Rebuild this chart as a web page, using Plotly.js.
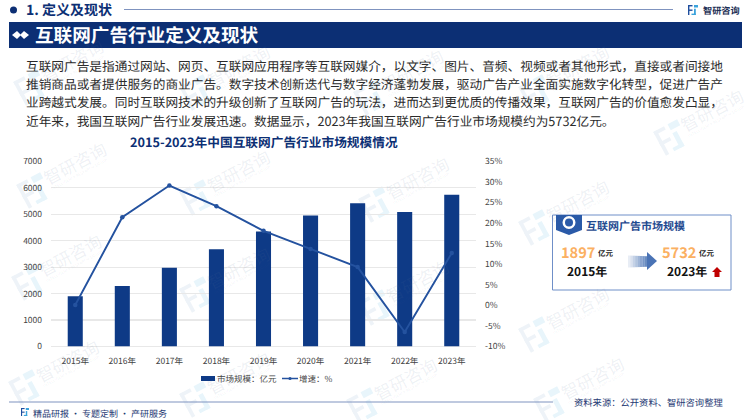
<!DOCTYPE html>
<html><head><meta charset="utf-8">
<script src="https://cdn.plot.ly/plotly-3.0.1.min.js"></script>
<style>html,body{margin:0;padding:0;background:#fff}#c{width:750px;height:420px}svg text{text-rendering:geometricPrecision}</style></head>
<body><div id="c"></div>
<script>
const years=['2015年','2016年','2017年','2018年','2019年','2020年','2021年','2022年','2023年'];
const marketSize=[1897,2290,2980,3680,4350,4950,5410,5083,5732];
const growth=[0.1,21.4,29.1,24.1,18.1,13.7,9.3,-6.5,12.7];
const bodyLines=[
'互联网广告是指通过网站、网页、互联网应用程序等互联网媒介，以文字、图片、音频、视频或者其他形式，直接或者间接地',
'推销商品或者提供服务的商业广告。数字技术创新迭代与数字经济蓬勃发展，驱动广告产业全面实施数字化转型，促进广告产',
'业跨越式发展。同时互联网技术的升级创新了互联网广告的玩法，进而达到更优质的传播效果，互联网广告的价值愈发凸显，',
'近年来，我国互联网广告行业发展迅速。数据显示，2023年我国互联网广告行业市场规模约为5732亿元。'];
const wmSpots=[[72,60],[238,65],[412,70],[577,65],[712,110],[75,163],[238,170],[417,177],[577,200],[70,255],[238,267],[417,280],[577,307],[67,360],[238,372],[405,378],[592,377]];

const F='"Noto Sans CJK SC","Noto Sans",sans-serif';
const NAVY='#0c2f74', BLUE='#0e3a86', LINE='#24529f';
const px=x=>x/750, py=y=>1-y/420;
const ann=[], shp=[];
function T(x,y,text,size,color,o={}){ann.push(Object.assign({xref:'paper',yref:'paper',x:px(x-2),y:py(y),text,showarrow:false,
 xanchor:'left',yanchor:'middle',font:{family:F,size,color}},o));}
function TB(x,y,text,size,color,o={}){T(x,y,text,size,color,Object.assign({font:{family:F,size,color,weight:700}},o));}
function R(x0,y0,x1,y1,fill,line,lw,o={}){shp.push(Object.assign({type:'rect',xref:'paper',yref:'paper',x0:px(x0),x1:px(x1),y0:py(y0),y1:py(y1),
 fillcolor:fill,line:{color:line||fill,width:lw||0}},o));}
function P(pts,fill,o={}){const d='M'+pts.map(p=>px(p[0])+','+py(p[1])).join('L')+'Z';
 shp.push(Object.assign({type:'path',xref:'paper',yref:'paper',path:d,fillcolor:fill,line:{width:0}},o));}
function L(x0,y0,x1,y1,c,w,o={}){shp.push(Object.assign({type:'line',xref:'paper',yref:'paper',x0:px(x0),x1:px(x1),y0:py(y0),y1:py(y1),line:{color:c,width:w}},o));}
function C(cx,cy,r,fill,o={}){shp.push(Object.assign({type:'circle',xref:'paper',yref:'paper',x0:px(cx-r),x1:px(cx+r),y0:py(cy+r),y1:py(cy-r),fillcolor:fill,line:{width:0}},o));}
const LOGO=[[0,0,.45,.14,0],[0,0,.14,1,0],[0,.45,.45,.59,0],[.6,0,1,.25,1],[.6,.38,.78,1,1],[.35,.86,.78,1,1]];
function logo(x,y,s,c1,c2,ang,o){
 const a=(ang||0)*Math.PI/180,ca=Math.cos(a),sa=Math.sin(a),cx=x+s/2,cy=y+s/2;
 const rot=(u,v)=>{const dx=x+u*s-cx,dy=y+v*s-cy;return [cx+dx*ca-dy*sa,cy+dx*sa+dy*ca];};
 LOGO.forEach(b=>P([rot(b[0],b[1]),rot(b[2],b[1]),rot(b[2],b[3]),rot(b[0],b[3])],b[4]?c2:c1,o||{}));
}
// watermarks
wmSpots.forEach(([x,y])=>{
 ann.push({xref:'paper',yref:'paper',x:px(x),y:py(y),text:'智研咨询',showarrow:false,xanchor:'center',yanchor:'middle',textangle:-28,font:{family:F,size:17,color:'rgba(90,115,150,0.10)'}});
 ann.push({xref:'paper',yref:'paper',x:px(x+4),y:py(y+12),text:'INTELLIGENCE RESEARCH GROUP',showarrow:false,xanchor:'center',yanchor:'middle',textangle:-28,font:{family:F,size:4,color:'rgba(90,115,150,0.10)'}});
 logo(x-54,y+14,27,'#eef3f8','#e8f5fb',-28,{layer:'below'});
});
// header
C(13.5,10,3.5,NAVY);
TB(26,10,'1. 定义及现状',14,NAVY);
L(124,9.5,673,9.5,'#7f93bf',1);
logo(688,5,10,'#1f4e9e','#3aa3dc');
TB(703,9.5,'智研咨询',9.2,'#1c2f55');
R(9,22,742,48,NAVY);
P([[12,35],[17,31],[21,35],[17,39]],'#ffffff');P([[20,35],[24,31],[29,35],[24,39]],'#ffffff');
TB(35,34.5,'互联网广告行业定义及现状',18.6,'#ffffff');
bodyLines.forEach((t,i)=>T(25.5,65+i*18.35,t,12.68,'#2b2b2b'));
// chart title
ann.push({xref:'paper',yref:'paper',x:px(264),y:py(141.5),text:'2015-2023年中国互联网广告行业市场规模情况',showarrow:false,xanchor:'center',yanchor:'middle',font:{family:F,size:12.7,color:NAVY,weight:700}});
// legend
R(201,376,215,381,BLUE);
T(217,378.5,'市场规模：亿元',8.5,'#444');
L(282,378.5,298,378.5,LINE,1.5);
C(290,378.5,1.6,LINE);
T(299,378.5,'增速：%',8.5,'#444');
// right card
R(552.5,215,731,290,'rgba(255,255,255,0)','#6f8fc8',1);
P([[556,215],[582,215],[582,230],[569,235],[556,230]],'#2a5aa8');
C(569,222.5,6.5,'#ffffff');C(569,222.5,4,'#2a5aa8');
TB(586,225.5,'互联网广告市场规模',11,'#1f4a90');
TB(561,252.5,'1897',14.6,'#fbb062');
TB(598,254,'亿元',7.5,'#222');
TB(567,271,'2015年',12,'#111');
[0.12,0.2,0.3,0.4,0.5,0.6,0.7,0.78].forEach((op,i)=>R(628+i*2.4,255.5+i*.1,630.4+i*2.4,267.5-i*.1,'#3f6bb0',null,0,{opacity:op}));
P([[647,252],[657,261],[647,270]],'#4a73b5');
TB(662,252.5,'5732',14.6,'#fbb062');
TB(699,254,'亿元',7.5,'#222');
TB(667,271,'2023年',12,'#111');
P([[712,272],[717,267],[722,272],[719.5,272],[719.5,277],[714.5,277],[714.5,272]],'#c00000');
// footer
L(9,402,553,402,'#7f93bf',1);
logo(21,408,8,'#1f4e9e','#3aa3dc');
T(33,413,'精品研报 · 专题定制 · 产研服务',9,'#1f3a74');
T(574,402,'资料来源：公开资料、智研咨询整理',9.3,'#1f3a74');

const tf={family:F,size:8.5,color:'#444'};
const data=[
 {type:'bar',x:years,y:marketSize,name:'市场规模：亿元',marker:{color:BLUE},width:0.32,yaxis:'y'},
 {type:'scatter',mode:'lines+markers',x:years,y:growth,name:'增速：%',yaxis:'y2',line:{color:LINE,width:1.9},marker:{color:LINE,size:4.5}}
];
const layout={width:750,height:420,margin:{l:0,r:0,t:0,b:0},paper_bgcolor:'#fff',plot_bgcolor:'rgba(0,0,0,0)',showlegend:false,
 xaxis:{domain:[px(51),px(476)],type:'category',anchor:'y',tickfont:tf,ticks:'',showline:false,showgrid:false,zeroline:false,ticklabelstandoff:8,tickangle:0},
 yaxis:{domain:[py(346.5),py(161.3)],range:[0,7000],tickvals:[0,1000,2000,3000,4000,5000,6000,7000],anchor:'x',tickfont:tf,gridcolor:'#e8e8e8',gridwidth:1.2,zeroline:true,zerolinecolor:'#e8e8e8',zerolinewidth:1.2,showline:false,ticks:'',ticklabelstandoff:8},
 yaxis2:{domain:[py(346.5),py(161.3)],overlaying:'y',side:'right',anchor:'x',range:[-10,35],tickvals:[-10,-5,0,5,10,15,20,25,30,35],ticktext:['-10%','-5%','0%','5%','10%','15%','20%','25%','30%','35%'],tickfont:tf,showgrid:false,zeroline:false,showline:false,ticks:'',ticklabelstandoff:8},
 shapes:shp,annotations:ann};
Plotly.newPlot('c',data,layout,{displayModeBar:false,staticPlot:true});
</script></body></html>
